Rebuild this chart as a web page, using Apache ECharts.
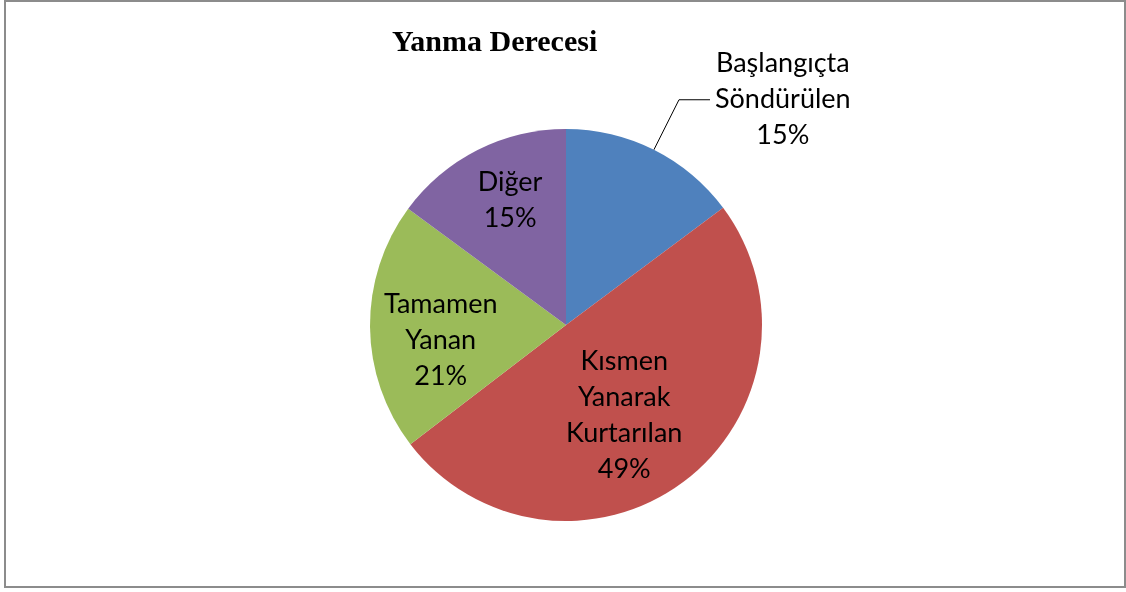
<html>
<head>
<meta charset="UTF-8">
<title>Yanma Derecesi</title>
<script src="https://cdn.jsdelivr.net/npm/echarts@6/dist/echarts.min.js"></script>
<style>
  html, body { margin: 0; padding: 0; background: #fff; }
  #main { width: 1126px; height: 592px; }
</style>
</head>
<body>
<div id="main"></div>
<script type="text/javascript">
// veriler
var categories = ['Başlangıçta Söndürülen', 'Kısmen Yanarak Kurtarılan', 'Tamamen Yanan', 'Diğer'];
var values = [14.8, 49.8, 20.5, 14.9];
var pctLabels = ['15%', '49%', '21%', '15%'];
var colors = ['#4F81BD', '#C0504D', '#9BBB59', '#8064A2'];

// iç etiketlerin merkezden uzaklığı (yarıçap oranı) ve küçük kaydırmalar
var insideRatio = [0, 0.56, 0.62, 0.69];
var labelNudge = [[0, 0], [-10, 0], [0, 14], [7, 0]];

var cx = 566, cy = 325, R = 196;

var myChart = echarts.init(document.getElementById('main'));

var pieData = [];
for (var i = 0; i < categories.length; i++) {
    pieData.push({
        name: categories[i],
        value: values[i],
        itemStyle: { color: colors[i] },
        label: { position: i === 0 ? 'outside' : 'inside' },
        labelLine: { show: i === 0 }
    });
}

var option = {
    animation: false,
    title: {
        text: 'Yanma Derecesi',
        left: 392,
        top: 28,
        padding: 0,
        textStyle: {
            fontFamily: 'Liberation Serif',
            fontWeight: 'bold',
            fontSize: 30,
            color: '#000'
        }
    },
    graphic: [{
        type: 'rect',
        shape: { x: 5, y: 1, width: 1120, height: 586 },
        style: { fill: 'none', stroke: '#8c8c8c', lineWidth: 2 },
        silent: true
    }],
    series: [{
        type: 'pie',
        center: [cx, cy],
        radius: R,
        startAngle: 90,
        clockwise: true,
        avoidLabelOverlap: false,
        itemStyle: { borderWidth: 0 },
        label: {
            fontFamily: 'Lato',
            fontSize: 27,
            lineHeight: 36,
            color: '#000',
            formatter: function (p) {
                var lines = p.name.split(' ');
                lines.push(pctLabels[p.dataIndex]);
                return lines.map(function (s) { return '{c|' + s + '}'; }).join('\n');
            },
            rich: {
                c: { align: 'center', fontFamily: 'Lato', fontSize: 27, lineHeight: 36, color: '#000' }
            }
        },
        labelLine: {
            length: 56,
            length2: 31,
            lineStyle: { color: '#000', width: 1 }
        },
        labelLayout: function (params) {
            var i = params.dataIndex;
            if (i === 0) return {};
            var r = params.labelRect;
            var lx = r.x + r.width / 2, ly = r.y + r.height / 2;
            var k = insideRatio[i] * 2 - 1;
            return {
                dx: (lx - cx) * k + labelNudge[i][0],
                dy: (ly - cy) * k + labelNudge[i][1]
            };
        },
        data: pieData
    }]
};
myChart.setOption(option);
</script>
</body>
</html>
